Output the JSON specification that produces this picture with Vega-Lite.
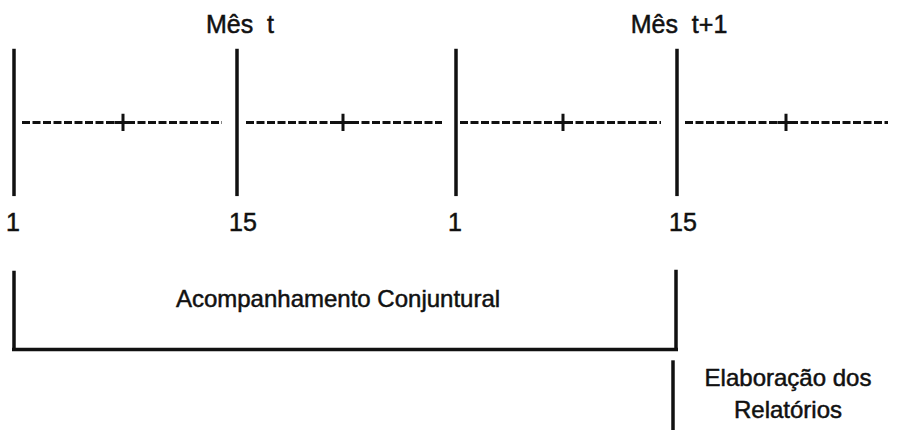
{
  "$schema": "https://vega.github.io/schema/vega-lite/v6.json",
  "width": 898,
  "height": 432,
  "padding": 0,
  "autosize": {"type": "fit", "contains": "padding"},
  "background": "white",
  "config": {"view": {"stroke": null}, "text": {"font": "Liberation Sans", "color": "#111", "stroke": "#111", "strokeWidth": 0.5}},
  "datasets": {
    "vlines": [
      {"name": "t start", "x": 14, "y1": 49, "y2": 197},
      {"name": "t 15", "x": 237, "y1": 49, "y2": 197},
      {"name": "t+1 start", "x": 456, "y1": 49, "y2": 197},
      {"name": "t+1 15", "x": 677, "y1": 49, "y2": 197},
      {"name": "bracket left", "x": 14, "y1": 272, "y2": 352},
      {"name": "bracket right", "x": 676, "y1": 271, "y2": 351},
      {"name": "reports", "x": 673, "y1": 362, "y2": 432}
    ],
    "hsolid": [
      {"name": "bracket bottom", "x1": 12, "x2": 678, "y": 351}
    ],
    "dashes": [
      {"seg": 1, "x1": 22, "x2": 222, "y": 123},
      {"seg": 2, "x1": 246, "x2": 442, "y": 123},
      {"seg": 3, "x1": 460, "x2": 661, "y": 123},
      {"seg": 4, "x1": 685, "x2": 888, "y": 123}
    ],
    "plus": [
      {"seg": 1, "x": 123, "y": 123},
      {"seg": 2, "x": 343, "y": 123},
      {"seg": 3, "x": 563, "y": 123},
      {"seg": 4, "x": 786, "y": 123}
    ],
    "titles": [
      {"label": "Mês\u00a0\u00a0t", "x": 240, "y": 33},
      {"label": "Mês\u00a0\u00a0t+1", "x": 679, "y": 33}
    ],
    "ticks": [
      {"label": "1", "x": 13, "y": 232},
      {"label": "15", "x": 243, "y": 232},
      {"label": "1", "x": 455, "y": 232},
      {"label": "15", "x": 683, "y": 232}
    ],
    "captions": [
      {"label": "Acompanhamento Conjuntural", "x": 338, "y": 308},
      {"label": "Elaboração dos", "x": 788, "y": 388},
      {"label": "Relatórios", "x": 788, "y": 420}
    ]
  },
  "layer": [
    {
      "data": {"name": "vlines"},
      "mark": {"type": "rule", "strokeWidth": 3.5, "color": "#111"},
      "encoding": {
        "x": {"field": "x", "type": "quantitative", "scale": {"domain": [0, 898], "nice": false, "zero": false}, "axis": null},
        "y": {"field": "y1", "type": "quantitative", "scale": {"domain": [0, 432], "nice": false, "zero": false, "reverse": true}, "axis": null},
        "y2": {"field": "y2"}
      }
    },
    {
      "data": {"name": "hsolid"},
      "mark": {"type": "rule", "strokeWidth": 3.5, "color": "#111"},
      "encoding": {
        "x": {"field": "x1", "type": "quantitative"},
        "x2": {"field": "x2"},
        "y": {"field": "y", "type": "quantitative"}
      }
    },
    {
      "data": {"name": "dashes"},
      "mark": {"type": "rule", "strokeWidth": 3, "strokeDash": [8, 2.5], "color": "#111"},
      "encoding": {
        "x": {"field": "x1", "type": "quantitative"},
        "x2": {"field": "x2"},
        "y": {"field": "y", "type": "quantitative"}
      }
    },
    {
      "data": {"name": "plus"},
      "mark": {"type": "point", "shape": "M-1,0L1,0M0,-1L0,1", "size": 300, "strokeWidth": 3, "color": "#111", "filled": false, "opacity": 1},
      "encoding": {
        "x": {"field": "x", "type": "quantitative"},
        "y": {"field": "y", "type": "quantitative"}
      }
    },
    {
      "data": {"name": "titles"},
      "mark": {"type": "text", "fontSize": 25, "align": "center", "baseline": "alphabetic"},
      "encoding": {
        "x": {"field": "x", "type": "quantitative"},
        "y": {"field": "y", "type": "quantitative"},
        "text": {"field": "label"}
      }
    },
    {
      "data": {"name": "ticks"},
      "mark": {"type": "text", "fontSize": 25, "align": "center", "baseline": "alphabetic"},
      "encoding": {
        "x": {"field": "x", "type": "quantitative"},
        "y": {"field": "y", "type": "quantitative"},
        "text": {"field": "label"}
      }
    },
    {
      "data": {"name": "captions"},
      "mark": {"type": "text", "fontSize": 24, "align": "center", "baseline": "alphabetic"},
      "encoding": {
        "x": {"field": "x", "type": "quantitative"},
        "y": {"field": "y", "type": "quantitative"},
        "text": {"field": "label"}
      }
    }
  ]
}
